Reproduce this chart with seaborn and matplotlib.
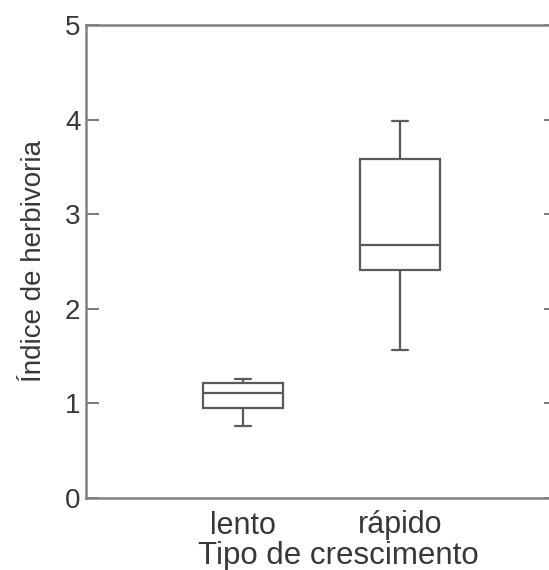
import matplotlib
matplotlib.use("Agg")
import matplotlib.pyplot as plt
import seaborn as sns
import pandas as pd

# Data (five-number summaries, expressed as samples)
lento = [0.76, 0.95, 1.11, 1.22, 1.26]
rapido = [1.56, 2.41, 2.67, 3.58, 3.98]
categories = ["lento", "rápido"]
y_ticks = [0, 1, 2, 3, 4, 5]

df = pd.DataFrame({
    "tipo": [categories[0]] * len(lento) + [categories[1]] * len(rapido),
    "valor": lento + rapido,
})

sns.set_style("white")
plt.rcParams["font.family"] = ["Liberation Sans", "DejaVu Sans"]

fig = plt.figure(figsize=(5.49, 5.70), dpi=100)
ax = fig.add_axes([86 / 549, 72 / 570, 471 / 549, 473 / 570])

line_col = "#5a5a5a"
text_col = "#383838"

sns.boxplot(data=df, x="tipo", y="valor", order=categories, ax=ax,
            color="white", linecolor=line_col, linewidth=1.6, width=0.51,
            fill=True, capwidths=0.1, whis=1.5)

ax.set_xlim(-1, 2)
ax.set_ylim(0, 5)
ax.set_yticks(y_ticks)
ax.set_yticklabels([str(t) for t in y_ticks])

for s in ax.spines.values():
    s.set_visible(True)
    s.set_color("#808080")
    s.set_linewidth(1.8)

ax.tick_params(axis="y", which="both", direction="in", length=9.5, width=1.3,
               color="#707070", left=True, right=True, labelsize=20,
               labelcolor=text_col, pad=4)
ax.tick_params(axis="x", which="both", length=0, labelsize=22,
               labelcolor=text_col, pad=9)

ax.set_xlabel("Tipo de crescimento", fontsize=22.5, color=text_col)
ax.set_ylabel("Índice de herbivoria", fontsize=20, color=text_col)
ax.xaxis.set_label_coords((338 - 86) / 471, -0.091)
ax.yaxis.set_label_coords(-0.082, 0.5)

fig.savefig("out.png", dpi=100)
